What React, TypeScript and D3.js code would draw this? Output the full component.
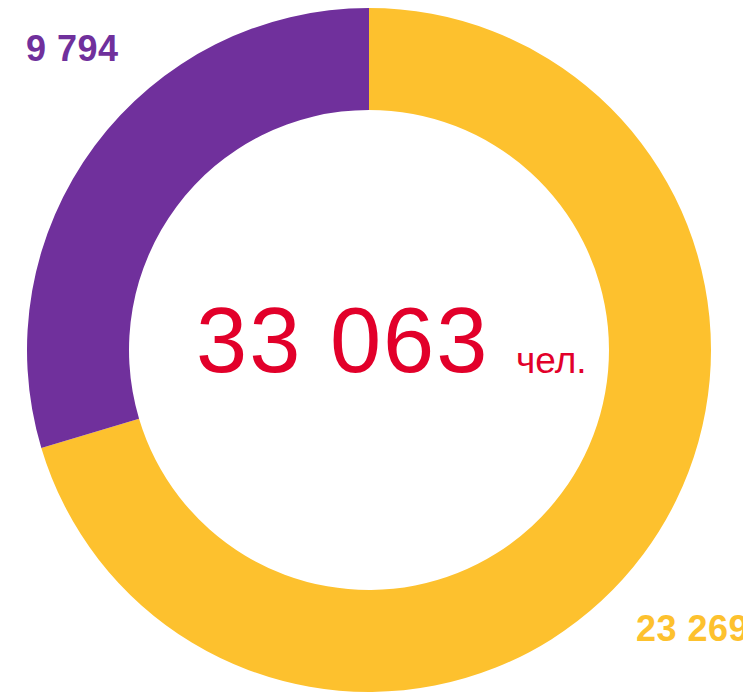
import React from "react";
import * as d3 from "d3";

const categories = ["Группа 1", "Группа 2"];
const values = [23269, 9794];
const colors = ["#FDC12E", "#70309C"];
const labels = ["23 269", "9 794"];
const totalLabel = "33 063";
const unitLabel = "чел.";

const W = 743;
const H = 695;
const cx = 369;
const cy = 350;
const outerR = 342;
const innerR = 240;

export default function App() {
  const pie = d3.pie<number>().sort(null).value((d) => d)(values);
  const arc = d3.arc<d3.PieArcDatum<number>>().innerRadius(innerR).outerRadius(outerR);
  const labelPos = [
    { x: 636, y: 641 },
    { x: 26, y: 61 },
  ];
  return (
    <svg
      width={W}
      height={H}
      style={{ position: "fixed", left: 0, top: 0, background: "#fff" }}
      fontFamily="'Liberation Sans', Arial, sans-serif"
    >
      <g transform={`translate(${cx},${cy})`}>
        {pie.map((p, i) => (
          <path key={categories[i]} d={arc(p) || ""} fill={colors[i]} />
        ))}
      </g>
      {labels.map((l, i) => (
        <text
          key={l}
          x={labelPos[i].x}
          y={labelPos[i].y}
          fill={colors[i]}
          fontSize={36}
          fontWeight="bold"
          letterSpacing={0.5}
        >
          {l}
        </text>
      ))}
      <text x={196} y={372} fill="#E2002A" fontSize={92} letterSpacing={2}>
        {totalLabel}
      </text>
      <text x={516} y={373} fill="#E2002A" fontSize={37}>
        {unitLabel}
      </text>
    </svg>
  );
}
